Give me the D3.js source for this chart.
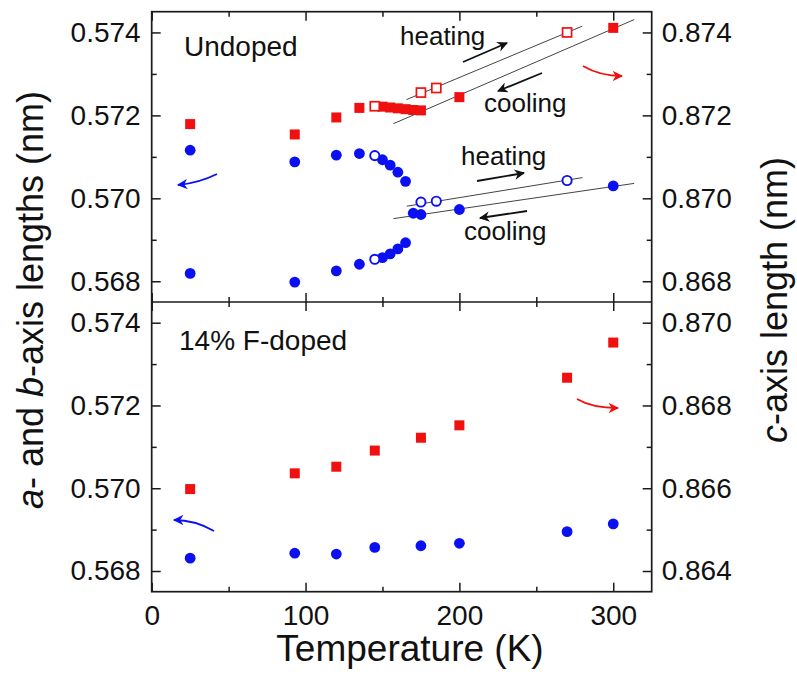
<!DOCTYPE html>
<html><head><meta charset="utf-8">
<script src="https://cdn.jsdelivr.net/npm/d3@7"></script>
<style>body{margin:0;background:#fff} svg{display:block} text{font-family:Arial,"Liberation Sans",sans-serif;}</style>
</head><body><svg id="c" width="797" height="676"></svg>
<script>
// ---------- data ----------
const xTicks = [0, 100, 200, 300];
const xMinor = [50, 150, 250];
const abTicks = [0.568, 0.570, 0.572, 0.574];
const abMinor = [0.569, 0.571, 0.573];
const cTicksTop = [0.868, 0.870, 0.872, 0.874];
const cMinorTop = [0.869, 0.871, 0.873];
const cTicksBot = [0.864, 0.866, 0.868, 0.870];
const cMinorBot = [0.865, 0.867, 0.869];

// Undoped: orthorhombic a and b (cooling, filled)
const undopedOrthoT = [25, 93, 120, 135, 150, 155, 160, 165];
const undopedA = [0.57116, 0.57088, 0.57104, 0.57108, 0.57093, 0.57080, 0.57063, 0.57041];
const undopedB = [0.56819, 0.56798, 0.56825, 0.56841, 0.56857, 0.56866, 0.56878, 0.56893];
// Undoped: tetragonal a (cooling, filled)
const undopedTetraT = [170, 175, 200, 300];
const undopedTetraAB = [0.56964, 0.56961, 0.56973, 0.57030];
// Undoped: heating (open)
const undopedHeatT = [145, 145, 175, 185, 270];
const undopedHeatAB = [0.57103, 0.56853, 0.56991, 0.56993, 0.57043];
// Undoped: c axis
const undopedCT = [25, 93, 120, 135, 150, 155, 160, 165, 170, 175, 200, 300];
const undopedC = [0.87179, 0.87154, 0.87195, 0.87218, 0.87221, 0.87219, 0.87217, 0.87215, 0.87213, 0.87212, 0.87244, 0.87411];
const undopedHeatCT = [145, 175, 185, 270];
const undopedHeatC = [0.87222, 0.87255, 0.87266, 0.87400];
// guide lines
const heatFitCT = [165.6, 279.8], heatFitC = [0.87238, 0.87415];
const coolFitCT = [157.1, 313.6], coolFitC = [0.87180, 0.87431];
const heatFitABT = [165.8, 280.0], heatFitAB = [0.56981, 0.57050];
const coolFitABT = [157.1, 313.6], coolFitAB = [0.56951, 0.57036];

// 14% F-doped
const dopedT = [25, 93, 120, 145, 175, 200, 270, 300];
const dopedAB = [0.56831, 0.56843, 0.56841, 0.56857, 0.56861, 0.56867, 0.56895, 0.56914];
const dopedC = [0.86598, 0.86636, 0.86652, 0.86691, 0.86722, 0.86752, 0.86867, 0.86952];

// ---------- layout ----------
const L = 151.7, R = 651.7, TOP = 11.7, MID = 302, BOT = 591.7;
const BLUE = "#0a10f2", RED = "#f01010", INK = "#1a1a1a";
const svg = d3.select("#c");

const x = d3.scaleLinear().domain([0, 325]).range([L, R]);
const yABtop = d3.scaleLinear().domain([0.5675, 0.5745]).range([MID, TOP]);
const yCtop = d3.scaleLinear().domain([0.8675, 0.8745]).range([MID, TOP]);
const yABbot = d3.scaleLinear().domain([0.5675, 0.5745]).range([BOT, MID]);
const yCbot = d3.scaleLinear().domain([0.8635, 0.8705]).range([BOT, MID]);

// markers
const defs = svg.append("defs");
function mk(id, color, size) {
  defs.append("marker").attr("id", id).attr("viewBox", "0 0 10 10")
    .attr("refX", 9).attr("refY", 5).attr("markerWidth", size).attr("markerHeight", size * 0.75)
    .attr("markerUnits", "userSpaceOnUse").attr("orient", "auto")
    .append("path").attr("d", "M0,0 L10,5 L0,10 L3,5 Z").attr("fill", color);
}
mk("ahK", "#111", 14); mk("ahR", RED, 14); mk("ahB", BLUE, 14);

// axes
function styleAxis(g, labelSize) {
  g.select(".domain").remove();
  g.attr("font-size", labelSize).attr("font-family", 'Arial,"Liberation Sans",sans-serif').attr("color", INK);
  g.selectAll(".tick line").attr("stroke-width", 1.5);
  g.selectAll(".tick text").attr("fill", "#111");
}
function panelAxes(yL, yR, cT, cM, yTop, yBottom, labelX) {
  const fmt = d3.format(".3f");
  svg.append("g").attr("transform", `translate(${L},0)`)
    .call(d3.axisLeft(yL).tickValues(abTicks).tickSizeInner(-9).tickSizeOuter(0).tickPadding(11).tickFormat(fmt))
    .call(g => styleAxis(g, 28));
  svg.append("g").attr("transform", `translate(${L},0)`)
    .call(d3.axisLeft(yL).tickValues(abMinor).tickSizeInner(-5).tickSizeOuter(0).tickFormat(""))
    .call(g => styleAxis(g, 28));
  svg.append("g").attr("transform", `translate(${R},0)`)
    .call(d3.axisRight(yR).tickValues(cT).tickSizeInner(-9).tickSizeOuter(0).tickPadding(10).tickFormat(fmt))
    .call(g => styleAxis(g, 28));
  svg.append("g").attr("transform", `translate(${R},0)`)
    .call(d3.axisRight(yR).tickValues(cM).tickSizeInner(-5).tickSizeOuter(0).tickFormat(""))
    .call(g => styleAxis(g, 28));
  // top ticks (inward = down)
  svg.append("g").attr("transform", `translate(0,${yTop})`)
    .call(d3.axisTop(x).tickValues(xTicks).tickSizeInner(-9).tickSizeOuter(0).tickFormat(""))
    .call(g => styleAxis(g, 28));
  svg.append("g").attr("transform", `translate(0,${yTop})`)
    .call(d3.axisTop(x).tickValues(xMinor).tickSizeInner(-5).tickSizeOuter(0).tickFormat(""))
    .call(g => styleAxis(g, 28));
  // bottom ticks (inward = up)
  svg.append("g").attr("transform", `translate(0,${yBottom})`)
    .call(d3.axisBottom(x).tickValues(xTicks).tickSizeInner(-9).tickSizeOuter(0).tickPadding(13)
      .tickFormat(labelX ? d3.format("d") : ""))
    .call(g => styleAxis(g, 28));
  svg.append("g").attr("transform", `translate(0,${yBottom})`)
    .call(d3.axisBottom(x).tickValues(xMinor).tickSizeInner(-5).tickSizeOuter(0).tickFormat(""))
    .call(g => styleAxis(g, 28));
}
panelAxes(yABtop, yCtop, cTicksTop, cMinorTop, TOP, MID, false);
panelAxes(yABbot, yCbot, cTicksBot, cMinorBot, MID, BOT, true);

// frame
svg.append("rect").attr("x", L).attr("y", TOP).attr("width", R - L).attr("height", BOT - TOP)
  .attr("fill", "none").attr("stroke", INK).attr("stroke-width", 1.7);
svg.append("line").attr("x1", L).attr("x2", R).attr("y1", MID).attr("y2", MID)
  .attr("stroke", INK).attr("stroke-width", 1.7);

// guide lines
const fitLine = (ts, vs, ys) => svg.append("line")
  .attr("x1", x(ts[0])).attr("y1", ys(vs[0])).attr("x2", x(ts[1])).attr("y2", ys(vs[1]))
  .attr("stroke", "#444").attr("stroke-width", 1);
fitLine(heatFitCT, heatFitC, yCtop);
fitLine(coolFitCT, coolFitC, yCtop);
fitLine(heatFitABT, heatFitAB, yABtop);
fitLine(coolFitABT, coolFitAB, yABtop);

// point helpers
const zip = (a, b) => a.map((t, i) => [t, b[i]]);
function circles(data, ys, open) {
  svg.append("g").selectAll("circle").data(data).join("circle")
    .attr("cx", d => x(d[0])).attr("cy", d => ys(d[1]))
    .attr("r", open ? 4.6 : 5.4)
    .attr("fill", open ? "#fff" : BLUE)
    .attr("stroke", open ? BLUE : "none").attr("stroke-width", 1.9);
}
function squares(data, ys, open) {
  const s = open ? 9 : 10;
  svg.append("g").selectAll("rect").data(data).join("rect")
    .attr("x", d => x(d[0]) - s / 2).attr("y", d => ys(d[1]) - s / 2)
    .attr("width", s).attr("height", s)
    .attr("fill", open ? "#fff" : RED)
    .attr("stroke", open ? RED : "none").attr("stroke-width", 1.7);
}
// top panel
squares(zip(undopedCT, undopedC), yCtop, false);
squares(zip(undopedHeatCT, undopedHeatC), yCtop, true);
circles(zip(undopedOrthoT, undopedA), yABtop, false);
circles(zip(undopedOrthoT, undopedB), yABtop, false);
circles(zip(undopedTetraT, undopedTetraAB), yABtop, false);
circles(zip(undopedHeatT, undopedHeatAB), yABtop, true);
// bottom panel
squares(zip(dopedT, dopedC), yCbot, false);
circles(zip(dopedT, dopedAB), yABbot, false);

// annotations
function txt(s, px, py, size) {
  return svg.append("text").attr("x", px).attr("y", py).attr("font-size", size).attr("fill", "#111").text(s);
}
function arrow(x1, y1, x2, y2, m) {
  svg.append("line").attr("x1", x1).attr("y1", y1).attr("x2", x2).attr("y2", y2)
    .attr("stroke", "#111").attr("stroke-width", 1.8).attr("marker-end", `url(#${m})`);
}
function curve(d, color, m) {
  svg.append("path").attr("d", d).attr("fill", "none").attr("stroke", color)
    .attr("stroke-width", 1.8).attr("marker-end", `url(#${m})`);
}
txt("Undoped", 184, 56, 28);
txt("heating", 400, 45, 26);
arrow(463, 62, 507, 43, "ahK");
txt("cooling", 484, 112, 26);
arrow(542, 73, 498, 91, "ahK");
curve("M583,66 Q600,76 622,76", RED, "ahR");
txt("heating", 461, 165, 26);
arrow(477, 181, 524, 173, "ahK");
txt("cooling", 464, 240, 26);
arrow(527, 211, 480, 218, "ahK");
curve("M217,174 Q199,183 178,185", BLUE, "ahB");

txt("14% F-doped", 179, 350, 28);
curve("M577,399 Q592,408 618,408", RED, "ahR");
curve("M214,531 Q195,520 174,520", BLUE, "ahB");

// axis titles
svg.append("text").attr("x", 410).attr("y", 661).attr("text-anchor", "middle")
  .attr("font-size", 37).attr("fill", "#111").text("Temperature (K)");
const lt = svg.append("text").attr("transform", "translate(43,300) rotate(-90)")
  .attr("text-anchor", "middle").attr("font-size", 36).attr("fill", "#111");
lt.append("tspan").attr("font-style", "italic").text("a");
lt.append("tspan").text("- and ");
lt.append("tspan").attr("font-style", "italic").text("b");
lt.append("tspan").text("-axis lengths (nm)");
const rt = svg.append("text").attr("transform", "translate(787,300) rotate(-90)")
  .attr("text-anchor", "middle").attr("font-size", 36).attr("fill", "#111");
rt.append("tspan").attr("font-style", "italic").text("c");
rt.append("tspan").text("-axis length (nm)");
</script></body></html>
